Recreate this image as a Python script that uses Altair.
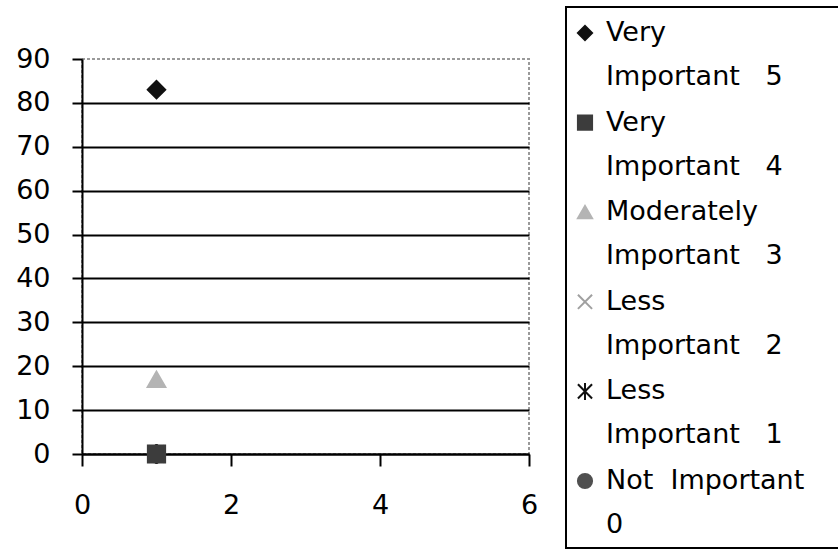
import altair as alt
import pandas as pd

# ---- data ----
series = ["Very Important 5", "Very Important 4", "Moderately Important 3",
          "Less Important 2", "Less Important 1", "Not Important 0"]
legend_labels = ["Very|Important\u00a0\u00a0\u00a05", "Very|Important\u00a0\u00a0\u00a04",
                 "Moderately|Important\u00a0\u00a0\u00a03", "Less|Important\u00a0\u00a0\u00a02",
                 "Less|Important\u00a0\u00a0\u00a01", "Not\u00a0\u00a0Important|0"]
x_values = [1, 1, 1, 1, 1, 1]
y_values = [83, 0, 17, 0, 0, 0]
draw_order = [6, 5, 4, 2, 3, 1]
x_ticks = [0, 2, 4, 6]
y_ticks = [0, 10, 20, 30, 40, 50, 60, 70, 80, 90]

X_PATH = "M-1,-1L1,1M1,-1L-1,1"
AST_PATH = "M-1,-1L1,1M1,-1L-1,1M0,-1.2L0,1.2"
shapes = ["diamond", "square", "triangle-up", X_PATH, AST_PATH, "circle"]
colors = ["#111111", "#3c3c3c", "#b4b4b4", "#a0a0a0", "#111111", "#505050"]

FONT = "DejaVu Sans"

df = pd.DataFrame({"series": series, "x": x_values, "y": y_values, "z": draw_order})
leg = pd.DataFrame({"series": series, "label": legend_labels})

shape_scale = alt.Scale(domain=series, range=shapes)
color_scale = alt.Scale(domain=series, range=colors)

points = alt.Chart(df).mark_point(filled=True, size=280, strokeWidth=2.5, opacity=1).encode(
    x=alt.X("x:Q", scale=alt.Scale(domain=[0, 6], nice=False, zero=False),
            axis=alt.Axis(values=x_ticks, title=None, grid=False, tickSize=12,
                          labelPadding=26, labelBaseline="top", labelFlush=False,
                          format="d")),
    y=alt.Y("y:Q", scale=alt.Scale(domain=[0, 90], nice=False),
            axis=alt.Axis(values=y_ticks, title=None, grid=True, tickSize=10,
                          labelPadding=22, labelFlush=False, format="d",
                          gridOpacity={"condition": {"test": "datum.value >= 90", "value": 0},
                                       "value": 1})),
    shape=alt.Shape("series:N", scale=shape_scale, legend=None),
    fill=alt.Fill("series:N", scale=color_scale, legend=None),
    stroke=alt.Stroke("series:N", scale=color_scale, legend=None),
    order=alt.Order("z:Q"),
)

legend_box = alt.Chart(pd.DataFrame({"k": [0]})).mark_rect(
    fill="white", stroke="black", strokeWidth=2
).encode(
    x=alt.value(484), x2=alt.value(770), y=alt.value(-52), y2=alt.value(489)
)

leg_y = alt.Y("series:N", scale=alt.Scale(domain=series, range=[-26, 422], padding=0), axis=None)

legend_symbols = alt.Chart(leg).mark_point(filled=True, size=200, strokeWidth=2, opacity=1).encode(
    x=alt.value(503),
    y=leg_y,
    shape=alt.Shape("series:N", scale=shape_scale, legend=None),
    fill=alt.Fill("series:N", scale=color_scale, legend=None),
    stroke=alt.Stroke("series:N", scale=color_scale, legend=None),
)

legend_text = alt.Chart(leg).mark_text(
    align="left", baseline="middle", lineBreak="|", lineHeight=44,
    font=FONT, fontSize=27, color="black"
).encode(
    x=alt.value(524),
    y=leg_y,
    text="label:N",
)

chart = alt.layer(points, legend_box, legend_symbols, legend_text).resolve_scale(
    y="independent"
).properties(
    width=447, height=395,
    autosize=alt.AutoSizeParams(type="none"),
    padding={"left": 82, "top": 59, "right": 309, "bottom": 98},
    background="white",
).configure_view(
    stroke="#9a9a9a", strokeDash=[3, 2], strokeWidth=2
).configure_axis(
    domainColor="black", domainWidth=2, tickColor="black", tickWidth=2,
    gridColor="black", gridWidth=2,
    labelFont=FONT, labelFontSize=27, labelColor="black",
)

chart.save("out.html", embed_options={"renderer": "svg", "actions": False})
